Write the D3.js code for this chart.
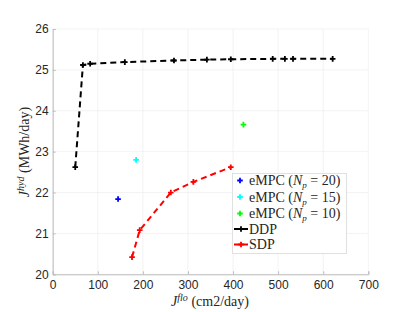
<!DOCTYPE html>
<html>
<head>
<meta charset="utf-8">
<script src="https://d3js.org/d3.v7.min.js"></script>
<style>
  body { margin: 0; background: #fff; }
  .tick text { font-family: "Liberation Sans", Arial, sans-serif; font-size: 12px; fill: #262626; }
  .lbl { font-family: "Liberation Serif", "Times New Roman", serif; fill: #262626; }
</style>
</head>
<body>
<div id="chart"></div>
<script>
// DDP and SDP Pareto points (J_flo, J_hyd)
const ddpFlo = [50, 67, 83, 160, 269, 342, 395, 488, 515, 533, 621];
const ddpHyd = [22.62, 25.12, 25.15, 25.19, 25.23, 25.25, 25.26, 25.27, 25.27, 25.27, 25.27];
const sdpFlo = [176, 193, 262, 312, 395];
const sdpHyd = [20.42, 21.08, 22.0, 22.26, 22.62];
// eMPC single points
const empcNp = [20, 15, 10];
const empcFlo = [145, 185, 423];
const empcHyd = [21.84, 22.8, 23.66];
const empcColors = ["#0000ff", "#00ffff", "#00ff00"];
const xTicks = [0, 100, 200, 300, 400, 500, 600, 700];
const yTicks = [20, 21, 22, 23, 24, 25, 26];

const W = 415, H = 312;
const m = { left: 52.7, right: 415 - 368.3, top: 29, bottom: 312 - 274.3 };
const iw = W - m.left - m.right, ih = H - m.top - m.bottom;

const svg = d3.select("#chart").append("svg").attr("width", W).attr("height", H);
const g = svg.append("g").attr("transform", "translate(" + m.left + "," + m.top + ")");

const x = d3.scaleLinear().domain([0, 700]).range([0, iw]);
const y = d3.scaleLinear().domain([20, 26]).range([ih, 0]);

// grid
g.append("g").selectAll("line").data(xTicks).enter().append("line")
  .attr("x1", d => x(d)).attr("x2", d => x(d)).attr("y1", 0).attr("y2", ih)
  .attr("stroke", "#ebebeb").attr("stroke-width", 0.6);
g.append("g").selectAll("line").data(yTicks).enter().append("line")
  .attr("y1", d => y(d)).attr("y2", d => y(d)).attr("x1", 0).attr("x2", iw)
  .attr("stroke", "#ebebeb").attr("stroke-width", 0.6);

// axes
const xa = g.append("g").attr("transform", "translate(0," + ih + ")")
  .call(d3.axisBottom(x).tickValues(xTicks).tickFormat(d3.format("d")).tickSize(-3).tickPadding(6));
const ya = g.append("g")
  .call(d3.axisLeft(y).tickValues(yTicks).tickFormat(d3.format("d")).tickSize(-3).tickPadding(4));
[xa, ya].forEach(a => {
  a.select(".domain").attr("stroke", "#bdbdbd");
  a.selectAll(".tick line").attr("stroke", "#bdbdbd");
});

// plus marker
function plus(sel, px, py, color) {
  const s = 2.8;
  sel.append("path")
    .attr("d", "M" + (px - s) + "," + py + "H" + (px + s) + "M" + px + "," + (py - s) + "V" + (py + s))
    .attr("stroke", color).attr("stroke-width", 1.8).attr("fill", "none");
}

const line = d3.line().x(d => x(d[0])).y(d => y(d[1]));

function series(flo, hyd, color) {
  const pts = flo.map((f, i) => [f, hyd[i]]);
  g.append("path").datum(pts).attr("d", line)
    .attr("fill", "none").attr("stroke", color).attr("stroke-width", 2)
    .attr("stroke-dasharray", "6,4");
  pts.forEach(p => plus(g, x(p[0]), y(p[1]), color));
}
series(ddpFlo, ddpHyd, "#000000");
series(sdpFlo, sdpHyd, "#ff0000");
empcFlo.forEach((f, i) => plus(g, x(f), y(empcHyd[i]), empcColors[i]));

// axis labels
const xl = svg.append("text").attr("class", "lbl").attr("x", 210).attr("y", 306)
  .attr("text-anchor", "middle").attr("font-size", 14);
xl.append("tspan").attr("font-style", "italic").text("J");
xl.append("tspan").attr("font-style", "italic").attr("font-size", 10).attr("dy", -5).text("flo");
xl.append("tspan").attr("dy", 5).text(" (cm2/day)");

const yl = svg.append("text").attr("class", "lbl")
  .attr("transform", "translate(29,152) rotate(-90)")
  .attr("text-anchor", "middle").attr("font-size", 14);
yl.append("tspan").attr("font-style", "italic").text("J");
yl.append("tspan").attr("font-style", "italic").attr("font-size", 10).attr("dy", -5).text("hyd");
yl.append("tspan").attr("dy", 5).text(" (MWh/day)");

// legend
const lg = svg.append("g");
lg.append("rect").attr("x", 232.5).attr("y", 173.5).attr("width", 114).attr("height", 80)
  .attr("fill", "#fff").attr("stroke", "#d9d9d9").attr("stroke-width", 0.8);
const rowY = [180.5, 197, 213.5, 229, 244.5];
empcNp.forEach((n, i) => {
  plus(lg, 240, rowY[i], empcColors[i]);
  const t = lg.append("text").attr("class", "lbl").attr("x", 249).attr("y", rowY[i] + 4.5)
    .attr("font-size", 14);
  t.append("tspan").text("eMPC (");
  t.append("tspan").attr("font-style", "italic").text("N");
  t.append("tspan").attr("font-style", "italic").attr("font-size", 9).attr("dy", 3).text("p");
  t.append("tspan").attr("dy", -3).text(" = " + n + ")");
});
[["DDP", "#000000"], ["SDP", "#ff0000"]].forEach((d, j) => {
  const yy = rowY[3 + j];
  lg.append("line").attr("x1", 234).attr("x2", 248).attr("y1", yy).attr("y2", yy)
    .attr("stroke", d[1]).attr("stroke-width", 2).attr("stroke-dasharray", "6,2");
  plus(lg, 241, yy, d[1]);
  lg.append("text").attr("class", "lbl").attr("x", 249).attr("y", yy + 4.5)
    .attr("font-size", 14).text(d[0]);
});
</script>
</body>
</html>
